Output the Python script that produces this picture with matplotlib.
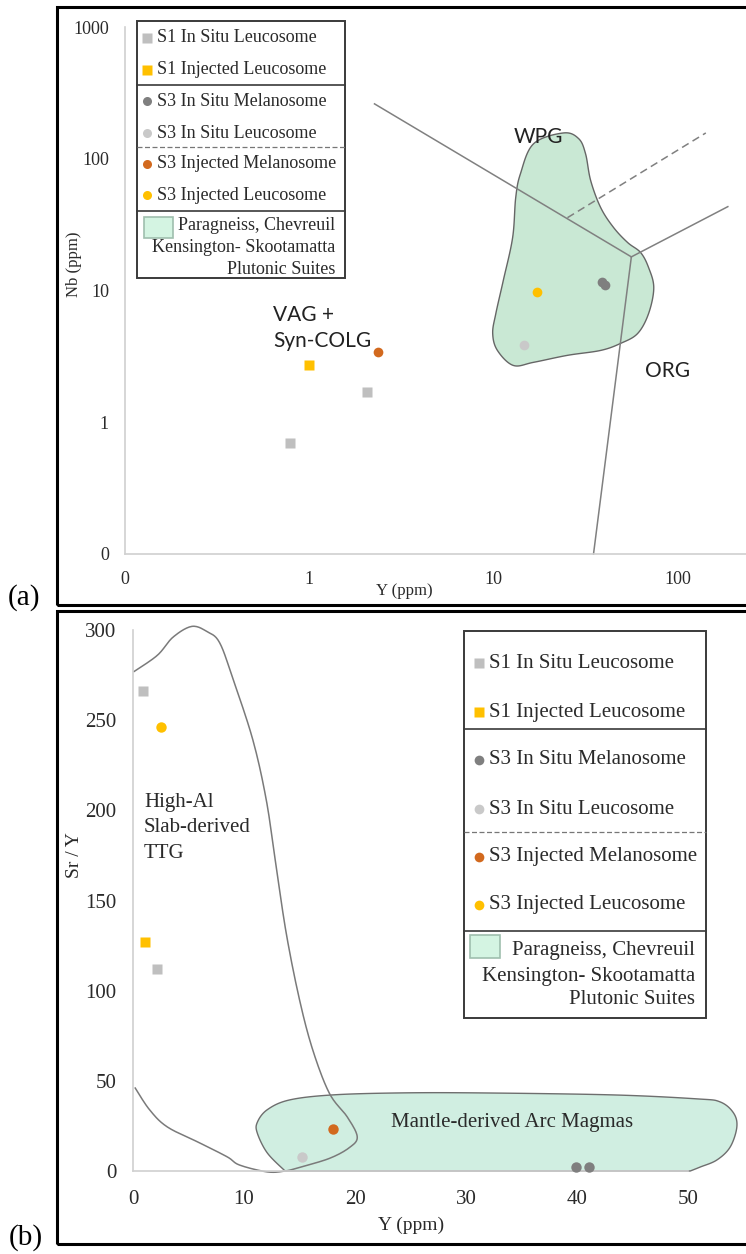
import numpy as np
import matplotlib
matplotlib.use("Agg")
import matplotlib.pyplot as plt
from matplotlib.patches import Rectangle, Polygon
from matplotlib.ticker import FixedLocator, FixedFormatter

# ---------------------------------------------------------------- data
# (a) Nb vs Y (ppm), log-log discrimination diagram
a_s1_insitu_leuc_y = [0.79, 2.07]
a_s1_insitu_leuc_nb = [0.70, 1.69]
a_s1_inj_leuc_y = [1.0]
a_s1_inj_leuc_nb = [2.70]
a_s3_insitu_mel_y = [38.6, 40.1]
a_s3_insitu_mel_nb = [11.7, 11.1]
a_s3_insitu_leuc_y = [14.7]
a_s3_insitu_leuc_nb = [3.83]
a_s3_inj_mel_y = [2.37]
a_s3_inj_mel_nb = [3.39]
a_s3_inj_leuc_y = [17.3]
a_s3_inj_leuc_nb = [9.8]

# field boundaries (Y, Nb)
wpg_vag_y = [2.26, 56.0]
wpg_vag_nb = [261.0, 18.0]
org_vag_y = [56.0, 34.9]
org_vag_nb = [18.0, 0.1]
wpg_org_y = [56.0, 187.0]
wpg_org_nb = [18.0, 43.3]
dashed_y = [25.2, 142.0]
dashed_nb = [35.7, 157.0]

# Paragneiss / Chevreuil / Kensington-Skootamatta field outline (Y, Nb)
field_a_y = [24.0, 16.5, 14.0, 13.2, 12.7, 11.3, 10.3, 9.9, 10.5, 12.8, 16.5, 25.2,
             38.2, 49.0, 60.6, 69.5, 74.1, 69.5, 62.9, 53.5, 44.9, 38.2, 33.7, 31.6, 29.0]
field_a_nb = [157, 130, 76.9, 50.7, 25.2, 11.9, 6.70, 4.72, 3.51, 2.70, 2.85, 3.22,
              3.51, 3.97, 4.72, 6.70, 10.5, 14.9, 19.4, 23.1, 30.0, 42.5, 68.1, 109, 142]

a_xticks = [0.1, 1, 10, 100]
a_xticklabels = ["0", "1", "10", "100"]
a_yticks = [0.1, 1, 10, 100, 1000]
a_yticklabels = ["0", "1", "10", "100", "1000"]

# (b) Sr/Y vs Y (ppm)
b_s1_insitu_leuc_y = [0.9, 2.16]
b_s1_insitu_leuc_sry = [266, 112]
b_s1_inj_leuc_y = [1.08]
b_s1_inj_leuc_sry = [127]
b_s3_insitu_mel_y = [39.9, 41.1]
b_s3_insitu_mel_sry = [2.2, 2.2]
b_s3_insitu_leuc_y = [15.2]
b_s3_insitu_leuc_sry = [7.8]
b_s3_inj_mel_y = [18.0]
b_s3_inj_mel_sry = [23.3]
b_s3_inj_leuc_y = [2.52]
b_s3_inj_leuc_sry = [246]

# High-Al slab-derived TTG field outline (Y, Sr/Y)
ttg_y = [0.1, 2.2, 3.6, 5.3, 6.7, 7.8, 9.0, 10.8, 12.0, 12.8, 13.8, 15.0, 16.2, 17.7,
         19.3, 20.2, 19.5, 17.7, 15.0, 13.7, 12.1, 9.6, 8.5, 6.0, 3.1, 1.5, 0.2]
ttg_sry = [277, 286, 296, 302, 299, 293, 273, 239, 206, 173, 132, 95, 67, 43,
           30, 19, 13, 7, 2, 0, -0.5, 3.3, 7.8, 15.6, 24.4, 33.9, 46]

# Mantle-derived arc magma field outline (Y, Sr/Y)
arc_y = [13.7, 12.1, 11.2, 11.2, 12.1, 14.1, 18.0, 24.1, 31.3, 43.2, 50.8, 52.9,
         54.1, 54.4, 53.8, 52.6, 51.1, 50.2]
arc_sry = [0, 10, 21, 27, 34, 39.4, 42.2, 43.3, 43.3, 42.2, 40, 38.3,
           32.2, 24.4, 13.3, 6.1, 2.2, 0]

b_xticks = [0, 10, 20, 30, 40, 50]
b_yticks = [0, 50, 100, 150, 200, 250, 300]

legend_labels = ["S1 In Situ Leucosome", "S1 Injected Leucosome",
                 "S3 In Situ Melanosome", "S3 In Situ Leucosome",
                 "S3 Injected Melanosome", "S3 Injected Leucosome"]
field_label = ["Paragneiss, Chevreuil", "Kensington- Skootamatta", "Plutonic Suites"]

# ---------------------------------------------------------------- styles
C_LGRAY = "#bfbfbf"
C_GOLD = "#ffc000"
C_DGRAY = "#7f7f7f"
C_LGRAY2 = "#c9c9c9"
C_RUST = "#d2691e"
styles = [("s", C_LGRAY), ("s", C_GOLD), ("o", C_DGRAY),
          ("o", C_LGRAY2), ("o", C_RUST), ("o", C_GOLD)]
TXT = "#2a2a2a"
SERIF = ["Liberation Serif", "DejaVu Serif"]
SANS = ["Lato", "DejaVu Sans"]

W, H = 746, 1254


def fx(px):
    return px / W


def fy(py):
    return 1 - py / H


def smooth(xs, ys, closed, n=14):
    pts = np.column_stack([xs, ys]).astype(float)
    if closed:
        P = np.vstack([pts[-1], pts, pts[0], pts[1]])
    else:
        P = np.vstack([pts[0], pts, pts[-1]])
    out = []
    t = np.linspace(0, 1, n, endpoint=False)[:, None]
    for i in range(1, len(P) - 2):
        p0, p1, p2, p3 = P[i - 1], P[i], P[i + 1], P[i + 2]
        seg = 0.5 * (2 * p1 + (-p0 + p2) * t + (2 * p0 - 5 * p1 + 4 * p2 - p3) * t ** 2
                     + (-p0 + 3 * p1 - 3 * p2 + p3) * t ** 3)
        out.append(seg)
    if not closed:
        out.append(pts[-1][None])
    return np.vstack(out)


fig = plt.figure(figsize=(W / 100, H / 100), dpi=100)

# panel frames and tags
fig.add_artist(Rectangle((fx(57), fy(605)), (800 - 57) / W, (605 - 7) / H,
                         transform=fig.transFigure, fill=False, lw=2.2, ec="black"))
fig.add_artist(Rectangle((fx(57), fy(1244)), (800 - 57) / W, (1244 - 611) / H,
                         transform=fig.transFigure, fill=False, lw=2.2, ec="black"))
fig.text(fx(24), fy(598), "(a)", ha="center", va="center", fontsize=21,
         family=SERIF, color="black")
fig.text(fx(26), fy(1238), "(b)", ha="center", va="center", fontsize=21,
         family=SERIF, color="black")


def style_axes(ax, fs):
    for s in ("top", "right"):
        ax.spines[s].set_visible(False)
    for s in ("left", "bottom"):
        ax.spines[s].set_color("#d0d0d0")
        ax.spines[s].set_linewidth(1.2)
    ax.tick_params(length=0, labelsize=fs, labelcolor=TXT)
    for lab in ax.get_xticklabels() + ax.get_yticklabels():
        lab.set_family(SERIF)
    ax.patch.set_alpha(0)


def plot_series(ax, series, ms):
    for (xv, yv), (mk, col) in zip(series, styles):
        ax.plot(xv, yv, linestyle="none", marker=mk, color=col, ms=ms,
                mec="none", zorder=5, clip_on=False)


# ---------------------------------------------------------------- panel (a)
ax_a = fig.add_axes([fx(125), fy(554), (862 - 125) / W, (554 - 27) / H])
ax_a.set_xscale("log")
ax_a.set_yscale("log")
ax_a.set_xlim(0.1, 1000)
ax_a.set_ylim(0.1, 1000)
ax_a.xaxis.set_major_locator(FixedLocator(a_xticks))
ax_a.xaxis.set_major_formatter(FixedFormatter(a_xticklabels))
ax_a.yaxis.set_major_locator(FixedLocator(a_yticks))
ax_a.yaxis.set_major_formatter(FixedFormatter(a_yticklabels))
ax_a.xaxis.set_minor_locator(FixedLocator([]))
ax_a.yaxis.set_minor_locator(FixedLocator([]))
style_axes(ax_a, 13)
ax_a.tick_params(axis="x", pad=12)
ax_a.tick_params(axis="y", pad=11.5)
ax_a.set_xlabel("Y (ppm)", family=SERIF, fontsize=12, color=TXT)
ax_a.set_ylabel("Nb (ppm)", family=SERIF, fontsize=12, color=TXT)
ax_a.yaxis.set_label_coords(-0.058, 0.55)
ax_a.xaxis.set_label_coords(0.379, -0.055)

shape = smooth(np.log10(field_a_y), np.log10(field_a_nb), closed=True)
ax_a.add_patch(Polygon(10 ** shape, closed=True, fc="#c9e8d4", ec="#666666",
                       lw=1.0, zorder=1))
for xs, ys, ls in [(wpg_vag_y, wpg_vag_nb, "-"), (org_vag_y, org_vag_nb, "-"),
                   (wpg_org_y, wpg_org_nb, "-"), (dashed_y, dashed_nb, (0, (5, 3)))]:
    ax_a.plot(xs, ys, color="#808080", lw=1.1, ls=ls, zorder=2, clip_on=False)

plot_series(ax_a, [(a_s1_insitu_leuc_y, a_s1_insitu_leuc_nb),
                   (a_s1_inj_leuc_y, a_s1_inj_leuc_nb),
                   (a_s3_insitu_mel_y, a_s3_insitu_mel_nb),
                   (a_s3_insitu_leuc_y, a_s3_insitu_leuc_nb),
                   (a_s3_inj_mel_y, a_s3_inj_mel_nb),
                   (a_s3_inj_leuc_y, a_s3_inj_leuc_nb)], ms=7)

fig.text(fx(538), fy(137), "WPG", ha="center", va="center", fontsize=15,
         family=SANS, color="#222222")
fig.text(fx(273), fy(315), "VAG +", ha="left", va="center", fontsize=15,
         family=SANS, color="#222222")
fig.text(fx(273), fy(341), "Syn-COLG", ha="left", va="center", fontsize=15,
         family=SANS, color="#222222")
fig.text(fx(668), fy(371), "ORG", ha="center", va="center", fontsize=15,
         family=SANS, color="#222222")

# ---------------------------------------------------------------- panel (b)
ax_b = fig.add_axes([fx(133), fy(1171), (688 - 133) / W, (1171 - 630) / H])
ax_b.set_xlim(0, 50)
ax_b.set_ylim(0, 300)
ax_b.set_xticks(b_xticks)
ax_b.set_yticks(b_yticks)
style_axes(ax_b, 15)
ax_b.tick_params(axis="x", pad=14)
ax_b.tick_params(axis="y", pad=12)
ax_b.set_xlabel("Y (ppm)", family=SERIF, fontsize=14, color=TXT)
ax_b.set_ylabel("Sr / Y", family=SERIF, fontsize=14, color=TXT)
ax_b.yaxis.set_label_coords(-0.090, 0.584)
ax_b.xaxis.set_label_coords(0.501, -0.085)

arc = smooth(arc_y, arc_sry, closed=False)
ax_b.add_patch(Polygon(arc, closed=True, fc="#d0eee1", ec="#6e6e6e", lw=1.0,
                       zorder=1, clip_on=False))
ttg = smooth(ttg_y, ttg_sry, closed=False)
ax_b.plot(ttg[:, 0], ttg[:, 1], color="#7a7a7a", lw=1.1, zorder=2, clip_on=False)

plot_series(ax_b, [(b_s1_insitu_leuc_y, b_s1_insitu_leuc_sry),
                   (b_s1_inj_leuc_y, b_s1_inj_leuc_sry),
                   (b_s3_insitu_mel_y, b_s3_insitu_mel_sry),
                   (b_s3_insitu_leuc_y, b_s3_insitu_leuc_sry),
                   (b_s3_inj_mel_y, b_s3_inj_mel_sry),
                   (b_s3_inj_leuc_y, b_s3_inj_leuc_sry)], ms=7.5)

for i, line in enumerate(["High-Al", "Slab-derived", "TTG"]):
    fig.text(fx(144), fy(802 + 25.5 * i), line, ha="left", va="center",
             fontsize=15, family=SERIF, color=TXT)
fig.text(fx(512), fy(1122), "Mantle-derived Arc Magmas", ha="center",
         va="center", fontsize=15, family=SERIF, color=TXT)


# ---------------------------------------------------------------- legends
def draw_legend(box, rows, div_solid, div_dashed, patch_box, text_right,
                text_rows, mark_x, text_x, fs, ms):
    l, t, r, b = box
    lg = fig.add_axes([fx(l), fy(b), (r - l) / W, (b - t) / H])
    lg.set_xlim(l, r)
    lg.set_ylim(b, t)
    lg.axis("off")
    lg.add_patch(Rectangle((l, t), r - l, b - t, fill=False, ec="#3a3a3a",
                           lw=1.4, clip_on=False))
    for yy in div_solid:
        lg.plot([l, r], [yy, yy], color="#3a3a3a", lw=1.2, clip_on=False)
    for yy in div_dashed:
        lg.plot([l, r], [yy, yy], color="#777777", lw=0.9, ls=(0, (4, 2)),
                clip_on=False)
    for yy, lab, (mk, col) in zip(rows, legend_labels, styles):
        lg.plot([mark_x], [yy], marker=mk, color=col, ms=ms, mec="none",
                clip_on=False)
        lg.text(text_x, yy, lab, ha="left", va="center", fontsize=fs,
                family=SERIF, color=TXT)
    px0, py0, px1, py1 = patch_box
    lg.add_patch(Rectangle((px0, py0), px1 - px0, py1 - py0, fc="#d4f4e2",
                           ec="#9fbfae", lw=1.2, clip_on=False))
    for yy, lab in zip(text_rows, field_label):
        lg.text(text_right, yy, lab, ha="right", va="center", fontsize=fs,
                family=SERIF, color=TXT)


draw_legend((137, 21, 345, 278), [38, 70, 101, 133, 164, 195], [85, 211], [147],
            (144, 217, 173, 238), 335, [226, 248, 269], 147, 157, 13, 6.5)
draw_legend((464, 631, 706, 1018), [663, 712, 760, 809, 857, 905], [729, 931], [832],
            (470, 935, 500, 958), 695, [950, 977, 1000], 479, 489, 15, 7)

fig.savefig("out.png", dpi=100)
